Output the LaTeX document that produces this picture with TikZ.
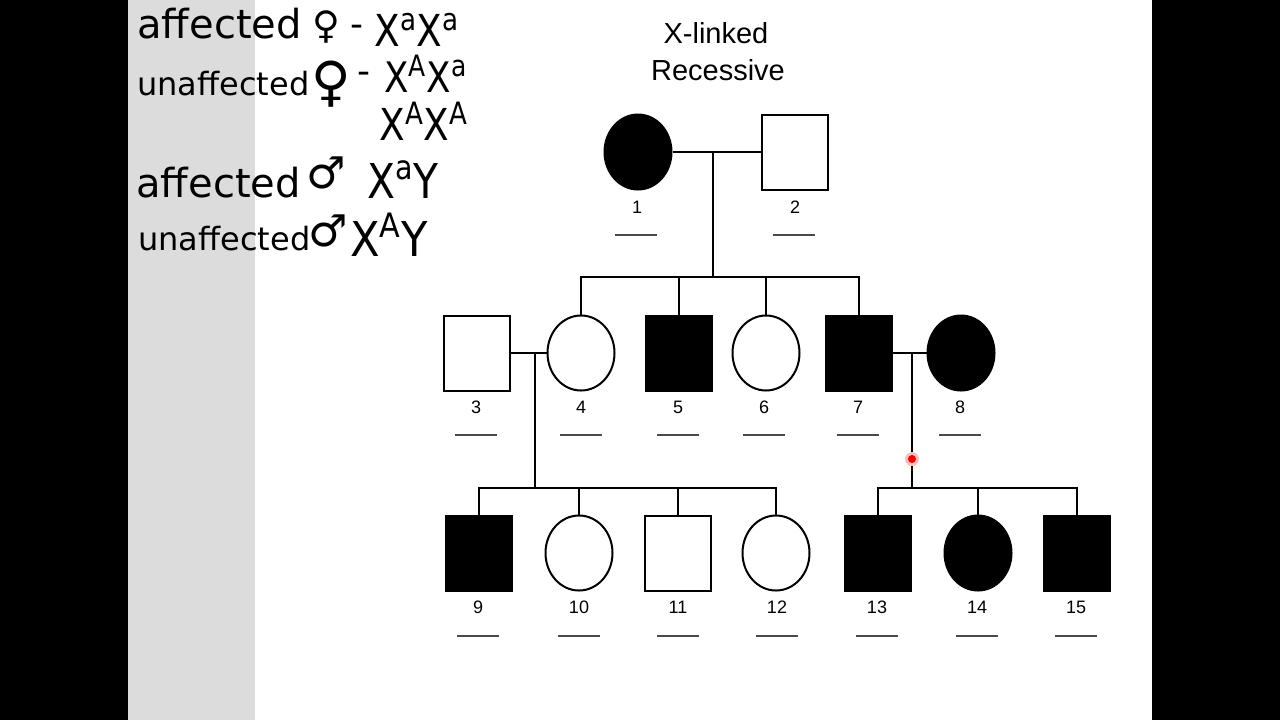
\documentclass[tikz,border=0pt]{standalone}
\usepackage{fontspec}
\setmainfont{Liberation Sans}
\newfontfamily\handfont{DejaVu Sans}
\usetikzlibrary{shapes.geometric}
\usepackage{xcolor}
\usepackage{graphicx}
\definecolor{sidegray}{HTML}{DCDCDC}
\definecolor{blankgray}{HTML}{4A4A4A}
\newcommand{\geno}[2]{\scalebox{0.85}[1.0]{X\textsuperscript{#1}X\textsuperscript{#2}}}

\begin{document}
\begin{tikzpicture}[x=0.5pt, y=-0.5pt,
  male/.style = {rectangle, draw, line width=1pt,
                 minimum width=33pt, minimum height=37.5pt, inner sep=0pt},
  female/.style = {ellipse, draw, line width=1pt,
                   minimum width=33.5pt, minimum height=37.5pt, inner sep=0pt},
  aff/.style = {fill=black},
  unaff/.style = {fill=white},
  num/.style = {font=\fontsize{9}{9}\selectfont, inner sep=0pt},
  ttl/.style = {font=\fontsize{14.5}{14.5}\selectfont, inner sep=0pt},
  ln/.style = {line width=1pt},
  blank/.style = {line width=0.8pt, color=blankgray},
  hw/.style = {anchor=base west, inner sep=0pt},
  sym/.style = {inner sep=0pt, font=\handfont}
]
\useasboundingbox (0,0) rectangle (1280,720);
\fill[white] (0,0) rectangle (1280,720);
\fill[black] (0,0) rectangle (128,720);
\fill[sidegray] (128,0) rectangle (255,720);
\fill[black] (1152,0) rectangle (1280,720);

% notes
\node[hw, font=\handfont\fontsize{20}{20}\selectfont] (w1) at (137,38) {affected};
\node[sym, font=\handfont\fontsize{19}{19}\selectfont] (g1) at (326,27) {♀};
\node[hw, font=\handfont\fontsize{18}{18}\selectfont] (h1) at (350,36) {-};
\node[hw, font=\handfont\fontsize{22}{22}\selectfont] (x1) at (374,46) {\geno{a}{a}};
\node[hw, font=\handfont\fontsize{16}{16}\selectfont] (w2) at (137,95) {unaffected};
\node[sym, font=\handfont\fontsize{27}{27}\selectfont] (g2) at (331,84) {♀};
\node[hw, font=\handfont\fontsize{18}{18}\selectfont] (h2) at (357,83) {-};
\node[hw, font=\handfont\fontsize{21}{21}\selectfont] (x2) at (384,92) {\geno{A}{a}};
\node[hw, font=\handfont\fontsize{22}{22}\selectfont] (x3) at (379,140) {\geno{A}{A}};
\node[hw, font=\handfont\fontsize{20}{20}\selectfont] (w4) at (136,197) {affected};
\node[sym, font=\handfont\fontsize{22}{22}\selectfont] (g4) at (326,173) {♂};
\node[hw, font=\handfont\fontsize{24}{24}\selectfont] (x4) at (367,198) {\scalebox{0.85}[1.0]{X\textsuperscript{a}Y}};
\node[hw, font=\handfont\fontsize{16}{16}\selectfont] (w5) at (138,250) {unaffected};
\node[sym, font=\handfont\fontsize{22}{22}\selectfont] (g5) at (328,231) {♂};
\node[hw, font=\handfont\fontsize{24}{24}\selectfont] (x5) at (350,256) {\scalebox{0.9}[1.0]{X\textsuperscript{A}Y}};

% title
\node[ttl] (t1) at (716,33) {X-linked};
\node[ttl] (t2) at (718,70) {Recessive};

% generation I
\node[female, aff] (p1) at (638,152) {};
\node[male, unaff] (p2) at (795,152) {};
% generation II
\node[male, unaff] (p3) at (477,353) {};
\node[female, unaff] (p4) at (581,353) {};
\node[male, aff] (p5) at (679,353) {};
\node[female, unaff] (p6) at (766,353) {};
\node[male, aff] (p7) at (859,353) {};
\node[female, aff] (p8) at (961,353) {};
% generation III
\node[male, aff] (p9) at (479,553) {};
\node[female, unaff] (p10) at (579,553) {};
\node[male, unaff] (p11) at (678,553) {};
\node[female, unaff] (p12) at (776,553) {};
\node[male, aff] (p13) at (878,553) {};
\node[female, aff] (p14) at (978,553) {};
\node[male, aff] (p15) at (1077,553) {};

\node[num] (l1) at (637,207) {1};
\node[num] (l2) at (795,207) {2};
\node[num] (l3) at (476,407) {3};
\node[num] (l4) at (581,407) {4};
\node[num] (l5) at (678,407) {5};
\node[num] (l6) at (764,407) {6};
\node[num] (l7) at (858,407) {7};
\node[num] (l8) at (960,407) {8};
\node[num] (l9) at (478,607) {9};
\node[num] (l10) at (579,607) {10};
\node[num] (l11) at (678,607) {11};
\node[num] (l12) at (777,607) {12};
\node[num] (l13) at (877,607) {13};
\node[num] (l14) at (977,607) {14};
\node[num] (l15) at (1076,607) {15};

\draw[blank] (615,235) -- (657,235);
\draw[blank] (773,235) -- (815,235);
\draw[blank] (455,435) -- (497,435);
\draw[blank] (560,435) -- (602,435);
\draw[blank] (657,435) -- (699,435);
\draw[blank] (743,435) -- (785,435);
\draw[blank] (837,435) -- (879,435);
\draw[blank] (939,435) -- (981,435);
\draw[blank] (457,636) -- (499,636);
\draw[blank] (558,636) -- (600,636);
\draw[blank] (657,636) -- (699,636);
\draw[blank] (756,636) -- (798,636);
\draw[blank] (856,636) -- (898,636);
\draw[blank] (956,636) -- (998,636);
\draw[blank] (1055,636) -- (1097,636);

% family 1 x 2
\coordinate (d12) at (713,152);
\coordinate (s12) at (713,277);
\draw[ln] (p1) -- (p2);
\draw[ln] (d12) -- (s12);
\draw[ln] (p4.north) -- (p4.north |- s12) -- (p7.north |- s12) -- (p7.north);
\draw[ln] (p5.north) -- (p5.north |- s12);
\draw[ln] (p6.north) -- (p6.north |- s12);

% family 3 x 4
\coordinate (d34) at (535,353);
\coordinate (s34) at (535,488);
\draw[ln] (p3) -- (p4);
\draw[ln] (d34) -- (s34);
\draw[ln] (p9.north) -- (p9.north |- s34) -- (p12.north |- s34) -- (p12.north);
\draw[ln] (p10.north) -- (p10.north |- s34);
\draw[ln] (p11.north) -- (p11.north |- s34);

% family 7 x 8
\coordinate (d78) at (912,353);
\coordinate (s78) at (912,488);
\draw[ln] (p7) -- (p8);
\draw[ln] (d78) -- (s78);
\draw[ln] (p13.north) -- (p13.north |- s78) -- (p15.north |- s78) -- (p15.north);
\draw[ln] (p14.north) -- (p14.north |- s78);

% pointer
\fill[red!25] (912,459) circle (7);
\fill[red] (912,459) circle (4);
\end{tikzpicture}
\end{document}
